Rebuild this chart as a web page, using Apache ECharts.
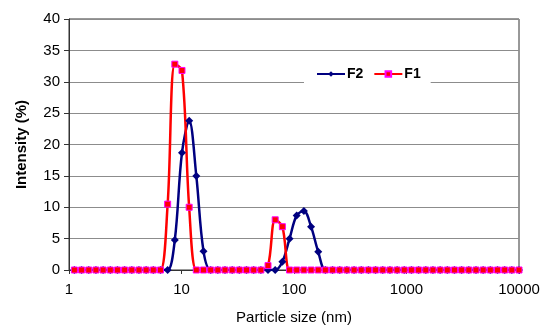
<!DOCTYPE html>
<html>
<head>
<meta charset="utf-8">
<script src="https://cdn.jsdelivr.net/npm/echarts@6/dist/echarts.min.js"></script>
<style>
  html, body { margin: 0; padding: 0; background: #fff; }
  #main { width: 543px; height: 325px; }
</style>
</head>
<body>
<div id="main"></div>
<script>
// particle size classes (nm)
const sizes = [1.117, 1.294, 1.499, 1.736, 2.010, 2.328, 2.696, 3.122, 3.615, 4.187,
  4.849, 5.615, 6.503, 7.531, 8.721, 10.10, 11.70, 13.54, 15.69, 18.17,
  21.04, 24.36, 28.21, 32.67, 37.84, 43.82, 50.75, 58.77, 68.06, 78.82,
  91.28, 105.7, 122.4, 141.8, 164.2, 190.1, 220.2, 255.0, 295.3, 342.0,
  396.1, 458.7, 531.2, 615.1, 712.4, 825.0, 955.4, 1106, 1281, 1484,
  1718, 1990, 2305, 2669, 3091, 3580, 4145, 4801, 5560, 6439,
  7456, 8635, 10000];

// intensity (%)
const f2 = [0, 0, 0, 0, 0, 0, 0, 0, 0, 0,
  0, 0, 0, 0, 4.8, 18.7, 23.8, 15.0, 3.0, 0,
  0, 0, 0, 0, 0, 0, 0, 0, 0, 1.3,
  5.0, 8.7, 9.4, 6.9, 2.9, 0, 0, 0, 0, 0,
  0, 0, 0, 0, 0, 0, 0, 0, 0, 0,
  0, 0, 0, 0, 0, 0, 0, 0, 0, 0,
  0, 0, 0];
const f1 = [0, 0, 0, 0, 0, 0, 0, 0, 0, 0,
  0, 0, 0, 10.5, 32.8, 31.8, 10.0, 0, 0, 0,
  0, 0, 0, 0, 0, 0, 0, 0.7, 8.0, 6.9,
  0, 0, 0, 0, 0, 0, 0, 0, 0, 0,
  0, 0, 0, 0, 0, 0, 0, 0, 0, 0,
  0, 0, 0, 0, 0, 0, 0, 0, 0, 0,
  0, 0, 0];

const yTicks = [0, 5, 10, 15, 20, 25, 30, 35, 40];

const font = 'Liberation Sans, Arial, sans-serif';
const myChart = echarts.init(document.getElementById('main'));

const option = {
    animation: false,
    backgroundColor: '#fff',
    textStyle: { fontFamily: font },
    grid: {
        left: 69, right: 24, top: 19, bottom: 55,
        outerBoundsMode: 'none',
        containLabel: false,
        show: true, borderColor: '#333', borderWidth: 1
    },
    legend: {
        data: ['F2', 'F1'],
        left: 304, top: 61,
        padding: [6, 10, 6, 12],
        itemGap: 10,
        itemWidth: 28, itemHeight: 7,
        backgroundColor: '#fff',
        textStyle: { fontFamily: font, fontSize: 14, fontWeight: 'bold', color: '#000', padding: [0, 0, 0, -3] }
    },
    xAxis: {
        type: 'log',
        logBase: 10,
        min: 1, max: 10000,
        name: 'Particle size (nm)',
        nameLocation: 'middle',
        nameGap: 40,
        nameTextStyle: { fontFamily: font, fontSize: 15, color: '#000' },
        axisLine: { lineStyle: { color: '#333', width: 1 } },
        axisTick: { show: true, length: 4, lineStyle: { color: '#333' } },
        axisLabel: {
            fontFamily: font, fontSize: 15, color: '#000', margin: 12,
            formatter: v => String(Math.round(v))
        },
        minorTick: { show: false },
        splitLine: { show: false }
    },
    yAxis: {
        type: 'value',
        min: yTicks[0], max: yTicks[yTicks.length - 1], interval: 5,
        name: 'Intensity (%)',
        nameLocation: 'middle',
        nameGap: 40,
        nameTextStyle: { fontFamily: font, fontSize: 15, fontWeight: 'bold', color: '#000' },
        axisLine: { show: true, lineStyle: { color: '#333', width: 1 } },
        axisTick: { show: true, length: 5, lineStyle: { color: '#333' } },
        axisLabel: { fontFamily: font, fontSize: 15, color: '#000', margin: 9 },
        splitLine: { show: true, lineStyle: { color: '#8c8c8c', width: 1 } }
    },
    series: [
        {
            name: 'F2',
            type: 'line',
            smooth: 0.35,
            data: sizes.map((s, i) => [s, f2[i]]),
            symbol: 'diamond',
            symbolSize: 8,
            lineStyle: { color: '#000080', width: 2.5 },
            itemStyle: { color: '#000080', borderColor: '#000080', borderWidth: 0 }
        },
        {
            name: 'F1',
            type: 'line',
            smooth: 0.35,
            data: sizes.map((s, i) => [s, f1[i]]),
            symbol: 'rect',
            symbolSize: 6,
            lineStyle: { color: '#ff0000', width: 2.5 },
            itemStyle: { color: '#ff0000', borderColor: '#ff00ff', borderWidth: 1 }
        }
    ]
};

option && myChart.setOption(option);
</script>
</body>
</html>
